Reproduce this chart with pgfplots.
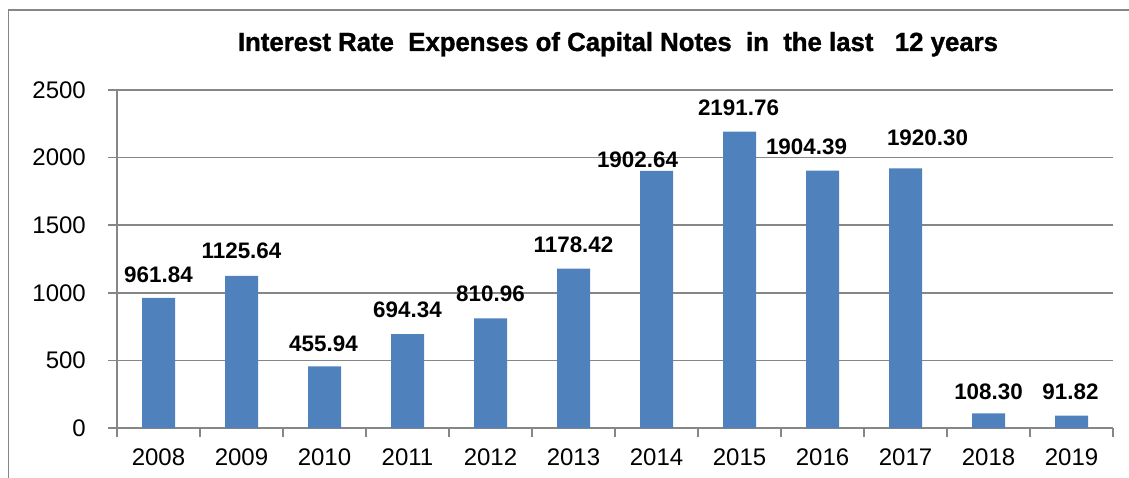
\documentclass[border=0pt]{standalone}
\usepackage{pgfplots}
\pgfplotsset{compat=1.18}
\usepackage{pgfplotstable}
\usepackage{fontspec}
\setmainfont{Liberation Sans}
\newfontfamily\titlefont{Liberation Sans}[BoldFeatures={FakeBold=1.2}]
\definecolor{barblue}{HTML}{4F81BD}
\definecolor{gridgray}{HTML}{868686}
\pgfplotstableread{
x y lab dx dy
0 961.84 961.84 0 23
1 1125.64 1125.64 0 25
2 455.94 455.94 -1 23
3 694.34 694.34 0 24
4 810.96 810.96 0 25
5 1178.42 1178.42 0 24
6 1902.64 1902.64 -19 11
7 2191.76 2191.76 -1 24
8 1904.39 1904.39 -16 24
9 1920.30 1920.30 22 31
10 108.30 108.30 0 22
11 91.82 91.82 -1 24
}\datatable
\begin{document}
\begin{tikzpicture}
\useasboundingbox (0,0) rectangle (1129pt,477pt);
\draw[gridgray, line width=1.5pt] (8.5pt,-5pt) -- (8.5pt,467pt) -- (1135pt,467pt);
\node[anchor=base, inner sep=0pt] at (618pt,426pt) {\resizebox{760pt}{19pt}{\titlefont\bfseries Interest Rate\ \ Expenses of Capital Notes\ \ in\ \ the last\ \ \ 12 years}};
\begin{axis}[
  at={(117pt,49pt)}, anchor=south west,
  scale only axis, width=996pt, height=338pt,
  xmin=-0.5, xmax=11.5, ymin=0, ymax=2500,
  axis x line*=bottom, axis y line*=left,
  axis line style={-, gridgray, line width=1.5pt},
  ymajorgrids, major grid style={gridgray, line width=1.5pt},
  tick align=outside, major tick length=9pt,
  tick style={gridgray, line width=1.5pt},
  ytick={0,500,1000,1500,2000,2500},
  yticklabels={0,500,1000,1500,2000,2500},
  xtick={-0.5,0.5,...,11.5}, xticklabels={},
  extra x ticks={0,1,2,3,4,5,6,7,8,9,10,11},
  extra x tick labels={2008,2009,2010,2011,2012,2013,2014,2015,2016,2017,2018,2019},
  extra x tick style={major tick length=0pt},
  tick label style={font=\fontsize{24}{28}\selectfont, black, inner sep=0pt},
  yticklabel style={anchor=east, xshift=-22pt},
  xticklabel style={anchor=north, yshift=-21pt},
  nodes near coords, point meta=explicit symbolic,
  visualization depends on={\thisrow{dx} \as \dx},
  visualization depends on={\thisrow{dy} \as \dy},
  every node near coord/.append style={anchor=center, inner sep=0pt, black,
     font=\bfseries\fontsize{22.4}{26}\selectfont, xshift={\dx*1pt}, yshift={\dy*1pt}},
]
\addplot[ybar, bar width=33pt, fill=barblue, draw=none] table[x=x, y=y, meta=lab] {\datatable};
\end{axis}
\end{tikzpicture}
\end{document}
